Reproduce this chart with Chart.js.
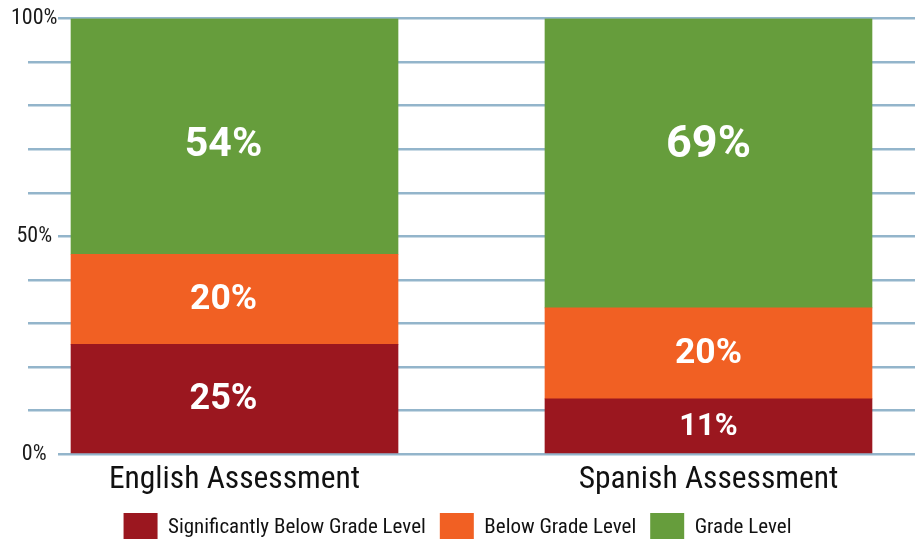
<!DOCTYPE html>
<html>
<head>
<meta charset="utf-8">
<script src="https://cdn.jsdelivr.net/npm/chart.js@4/dist/chart.umd.min.js"></script>
<style>
    body { margin: 0; overflow: hidden; background: #fff; }
    #wrap { position: relative; width: 918px; height: 553px; }
</style>
</head>
<body>
<div id="wrap"><canvas id="assessChart"></canvas></div>
<script>
// categories and values (bar heights, printed labels as shown)
let categories = ['English Assessment', 'Spanish Assessment'];
let seriesNames = ['Significantly Below Grade Level', 'Below Grade Level', 'Grade Level'];
let sigBelow = [25.2, 12.7];
let below = [20.7, 20.9];
let gradeLevel = [54.1, 66.4];
let sigBelowText = [25, 11];
let belowText = [20, 20];
let gradeLevelText = [54, 69];
let yTicks = [0, 50, 100];

let gridColor = '#93B5CB';
let condensed = "'Roboto Condensed', Roboto, sans-serif";

// white percentages inside the bars
const barLabels = {
    id: 'barLabels',
    afterDatasetsDraw(chart, args, opts) {
        let ctx = chart.ctx;
        let yScale = chart.scales.y;
        ctx.save();
        ctx.fillStyle = '#fff';
        ctx.textAlign = 'center';
        ctx.textBaseline = 'middle';
        chart.data.datasets.forEach((ds, i) => {
            chart.getDatasetMeta(i).data.forEach((bar, j) => {
                let y = ds.labelAt !== undefined ? yScale.getPixelForValue(ds.labelAt) : (bar.y + bar.base) / 2;
                ctx.font = 'bold ' + ds.labelSizes[j] + 'px Roboto, sans-serif';
                ctx.fillText(ds.labelText[j] + '%', bar.x + opts.shiftX[j], y + 1);
            });
        });
        ctx.restore();
    }
};

function toPoints(values) {
    return values.map((v, i) => ({x: i, y: v}));
}

let data = {
    datasets: [{
        label: seriesNames[0],
        data: toPoints(sigBelow),
        backgroundColor: '#9B171F',
        labelText: sigBelowText,
        labelSizes: [36, 31]
    }, {
        label: seriesNames[1],
        data: toPoints(below),
        backgroundColor: '#F16023',
        labelText: belowText,
        labelSizes: [35.5, 35.5]
    }, {
        label: seriesNames[2],
        data: toPoints(gradeLevel),
        backgroundColor: '#669D3C',
        labelText: gradeLevelText,
        labelSizes: [41, 45],
        labelAt: 71
    }]
};

let options = {
    responsive: true,
    maintainAspectRatio: false,
    animation: false,
    layout: { padding: { top: 18.5, right: 3, left: 0, bottom: 0 } },
    datasets: { bar: { barThickness: 327 } },
    scales: {
        x: {
            type: 'linear',
            stacked: true,
            offset: false,
            min: -0.3724,
            max: 1.4357,
            afterBuildTicks: (scale) => { scale.ticks = [{value: 0}, {value: 1}]; },
            grid: { display: false, offset: false },
            border: { display: false },
            ticks: {
                padding: -0.5,
                color: '#111',
                font: { family: condensed, size: 31.5 },
                callback: (v) => categories[v]
            }
        },
        y: {
            stacked: true,
            min: 0,
            max: 100,
            afterFit: (scale) => { scale.width = 58; },
            border: { display: false },
            grid: {
                color: gridColor,
                lineWidth: 2.5,
                tickLength: 30,
                tickColor: (c) => (c.tick && yTicks.includes(c.tick.value)) ? 'transparent' : gridColor
            },
            ticks: {
                stepSize: 10,
                padding: -29.5,
                crossAlign: 'center',
                color: '#1a1a1a',
                font: { family: condensed, size: 22 },
                callback: (v) => yTicks.includes(v) ? v + '%' : ''
            }
        }
    },
    plugins: {
        tooltip: { enabled: false },
        barLabels: { shiftX: [-11, 0] },
        legend: {
            position: 'bottom',
            labels: {
                boxWidth: 34,
                boxHeight: 30,
                padding: 14,
                color: '#111',
                font: { family: condensed, size: 21 }
            }
        }
    }
};

new Chart(document.getElementById('assessChart'), {
    type: 'bar',
    data: data,
    options: options,
    plugins: [barLabels]
});
</script>
</body>
</html>
